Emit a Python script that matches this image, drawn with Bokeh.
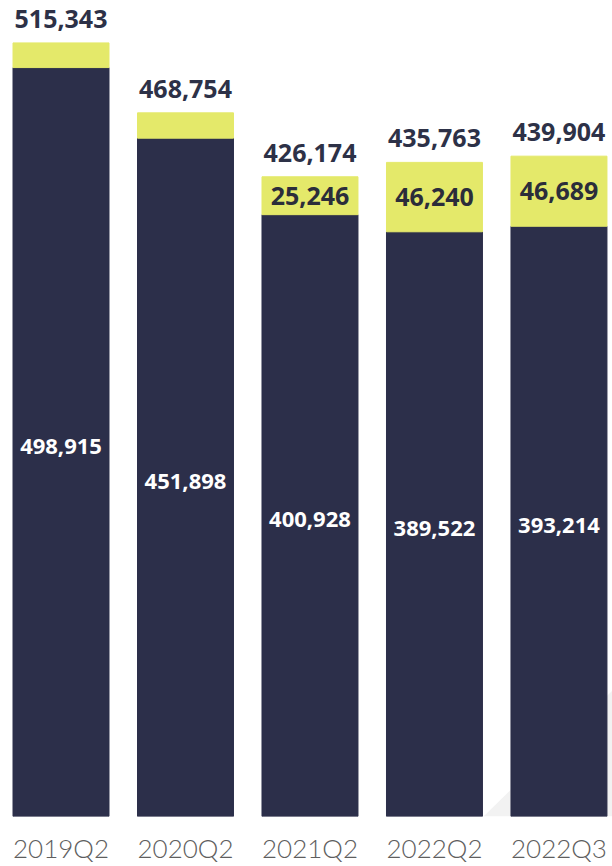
from bokeh.plotting import figure
from bokeh.models import ColumnDataSource, Range1d, FixedTicker, PolyAnnotation
from bokeh.core.properties import value
from bokeh.embed import file_html
from bokeh.resources import INLINE

quarters = ["2019Q2", "2020Q2", "2021Q2", "2022Q2", "2022Q3"]
base_vals = [498915, 451898, 400928, 389522, 393214]
extra_vals = [16428, 16856, 25246, 46240, 46689]
totals = [515343, 468754, 426174, 435763, 439904]

NAVY = "#2c2f4a"
YELLOW = "#e4e96a"

x = list(range(len(quarters)))
stack_top = [b + e for b, e in zip(base_vals, extra_vals)]
src = ColumnDataSource(dict(
    x=x,
    base=base_vals,
    extra=extra_vals,
    top=stack_top,
    base_mid=[b / 2 for b in base_vals],
    extra_mid=[b + e / 2 for b, e in zip(base_vals, extra_vals)],
    base_lbl=[f"{v:,}" for v in base_vals],
    extra_lbl=[f"{v:,}" if v >= 20000 else "" for v in extra_vals],
    total=totals,
    total_lbl=[f"{v:,}" for v in totals],
))

p = figure(width=612, height=866, output_backend="svg", toolbar_location=None,
           x_range=Range1d(-0.486, 4.43), y_range=Range1d(0, 543600),
           min_border_left=0, min_border_right=0, min_border_top=0,
           min_border_bottom=41)
p.outline_line_color = None
p.grid.grid_line_color = None
p.yaxis.visible = False
p.background_fill_color = "white"
p.border_fill_color = "white"

tri = PolyAnnotation(xs=[483, 612, 612], ys=[0, 126, 0],
                     xs_units="screen", ys_units="screen",
                     fill_color="#f2f2f2", fill_alpha=1.0, line_color=None,
                     level="underlay")
p.add_layout(tri)

p.vbar(x="x", bottom=0, top="base", width=0.771, color=NAVY, source=src)
p.vbar(x="x", bottom="base", top="top", width=0.771, color=YELLOW, source=src)

p.text(x="x", y="base_mid", text="base_lbl", source=src, text_color="white",
       text_font=value("Open Sans"), text_font_style="bold",
       text_font_size="22px", text_align="center", text_baseline="middle",
       y_offset=4)
p.text(x="x", y="extra_mid", text="extra_lbl", source=src, text_color="#2b2d3a",
       text_font=value("Open Sans"), text_font_style="bold",
       text_font_size="25px", text_align="center", text_baseline="middle")
p.text(x="x", y="total", text="total_lbl", source=src, text_color="#2d3147",
       text_font=value("Open Sans"), text_font_style="bold",
       text_font_size="25px", text_align="center", text_baseline="middle",
       y_offset=-24)

ax = p.xaxis[0]
ax.ticker = FixedTicker(ticks=x)
ax.major_label_overrides = {i: q for i, q in zip(x, quarters)}
ax.axis_line_color = None
ax.major_tick_line_color = None
ax.minor_tick_line_color = None
ax.major_label_text_font = "Lato Light"
ax.major_label_text_font_size = "26px"
ax.major_label_text_color = "#5e5e5e"
ax.major_label_standoff = 9

open("out.html", "w").write(file_html(p, INLINE))
